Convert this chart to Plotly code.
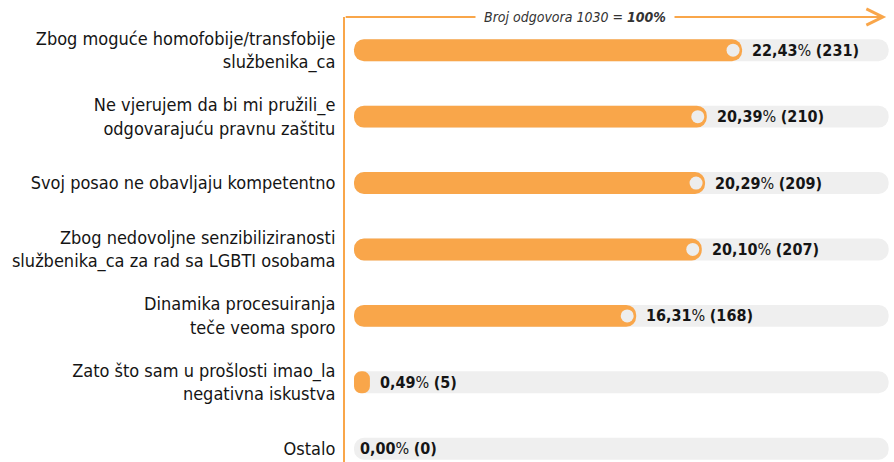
"""Horizontal pill-bar chart: razlozi neprijavljivanja (Plotly)."""

import plotly.graph_objects as go

CATEGORIES = [
    "Zbog moguće homofobije/transfobije<br>službenika_ca",
    "Ne vjerujem da bi mi pružili_e<br>odgovarajuću pravnu zaštitu",
    "Svoj posao ne obavljaju kompetentno",
    "Zbog nedovoljne senzibiliziranosti<br>službenika_ca za rad sa LGBTI osobama",
    "Dinamika procesuiranja<br>teče veoma sporo",
    "Zato što sam u prošlosti imao_la<br>negativna iskustva",
    "Ostalo",
]
PERCENTS = [22.43, 20.39, 20.29, 20.10, 16.31, 0.49, 0.00]
COUNTS = [231, 210, 209, 207, 168, 5, 0]
TOTAL = 1030

ORANGE = "#F9A64A"
TRACK = "#EFEFEF"
DOT = "#EDEDED"
TEXT = "#151515"
FONT = "DejaVu Sans Condensed, Roboto, sans-serif"

TRACK_MAX = 30.9   # grey track length, in axis (%) units
MIN_PILL = 0.92    # smallest visible pill for non-zero values
DOT_INSET = 0.52   # how far the light dot sits inside the bar end
BAR_W = 0.33

shown = [max(v, MIN_PILL) if v > 0 else 0 for v in PERCENTS]

fig = go.Figure()

# an explicit base makes plotly round both ends of the bar
for values, color in (([TRACK_MAX] * len(CATEGORIES), TRACK), (shown, ORANGE)):
    fig.add_trace(go.Bar(
        y=CATEGORIES, x=values, base=[0] * len(values),
        orientation="h", width=BAR_W,
        marker=dict(color=color, cornerradius=11, line_width=0),
        hoverinfo="skip", showlegend=False,
    ))

dots = [(c, v) for c, v in zip(CATEGORIES, PERCENTS) if v > 2]
fig.add_trace(go.Scatter(
    y=[c for c, _ in dots], x=[v - DOT_INSET for _, v in dots],
    mode="markers", marker=dict(color=DOT, size=13, opacity=1, line_width=0),
    hoverinfo="skip", showlegend=False,
))

for c, v, s, n in zip(CATEGORIES, PERCENTS, shown, COUNTS):
    label = f"{v:.2f}".replace(".", ",")
    fig.add_annotation(
        x=s, y=c, xref="x", yref="y", xanchor="left", yanchor="middle",
        xshift=8 if v > 0 else 4, showarrow=False,
        text=f"<b>{label}</b>% <b>({n})</b>",
        font=dict(family=FONT, size=16, color=TEXT),
    )

# arrow along the top edge
fig.add_annotation(
    x=0.993, y=1.0, xref="paper", yref="paper", ax=-542, ay=0,
    text="", showarrow=True, arrowhead=5, arrowsize=1.6, arrowwidth=2,
    arrowcolor=ORANGE,
)
fig.add_annotation(
    x=0.422, y=1.0, xref="paper", yref="paper", yanchor="middle",
    text=f"<i>Broj odgovora {TOTAL} = <b>100%</b></i>", showarrow=False,
    bgcolor="white", borderpad=8,
    font=dict(family=FONT, size=14, color="#333333"),
)

fig.update_layout(
    width=894, height=462,
    margin=dict(l=345, r=4, t=17, b=0),
    paper_bgcolor="white", plot_bgcolor="white",
    barmode="overlay",
    font=dict(family=FONT, color=TEXT),
    xaxis=dict(visible=False, range=[-0.52, 30.98], fixedrange=True,
               automargin=False),
    yaxis=dict(
        type="category", categoryorder="array", categoryarray=CATEGORIES,
        range=[6.2, -0.5], showgrid=False, zeroline=False, automargin=False,
        showline=True, linecolor=ORANGE, linewidth=2,
        ticks="", ticklabelstandoff=4,
        tickfont=dict(family=FONT, size=18, color=TEXT),
        fixedrange=True,
    ),
)

# the page's default body margin would shift the chart by 8px
fig.write_html("out.html", config={"displayModeBar": False},
               post_script="document.body.style.margin='0';")
